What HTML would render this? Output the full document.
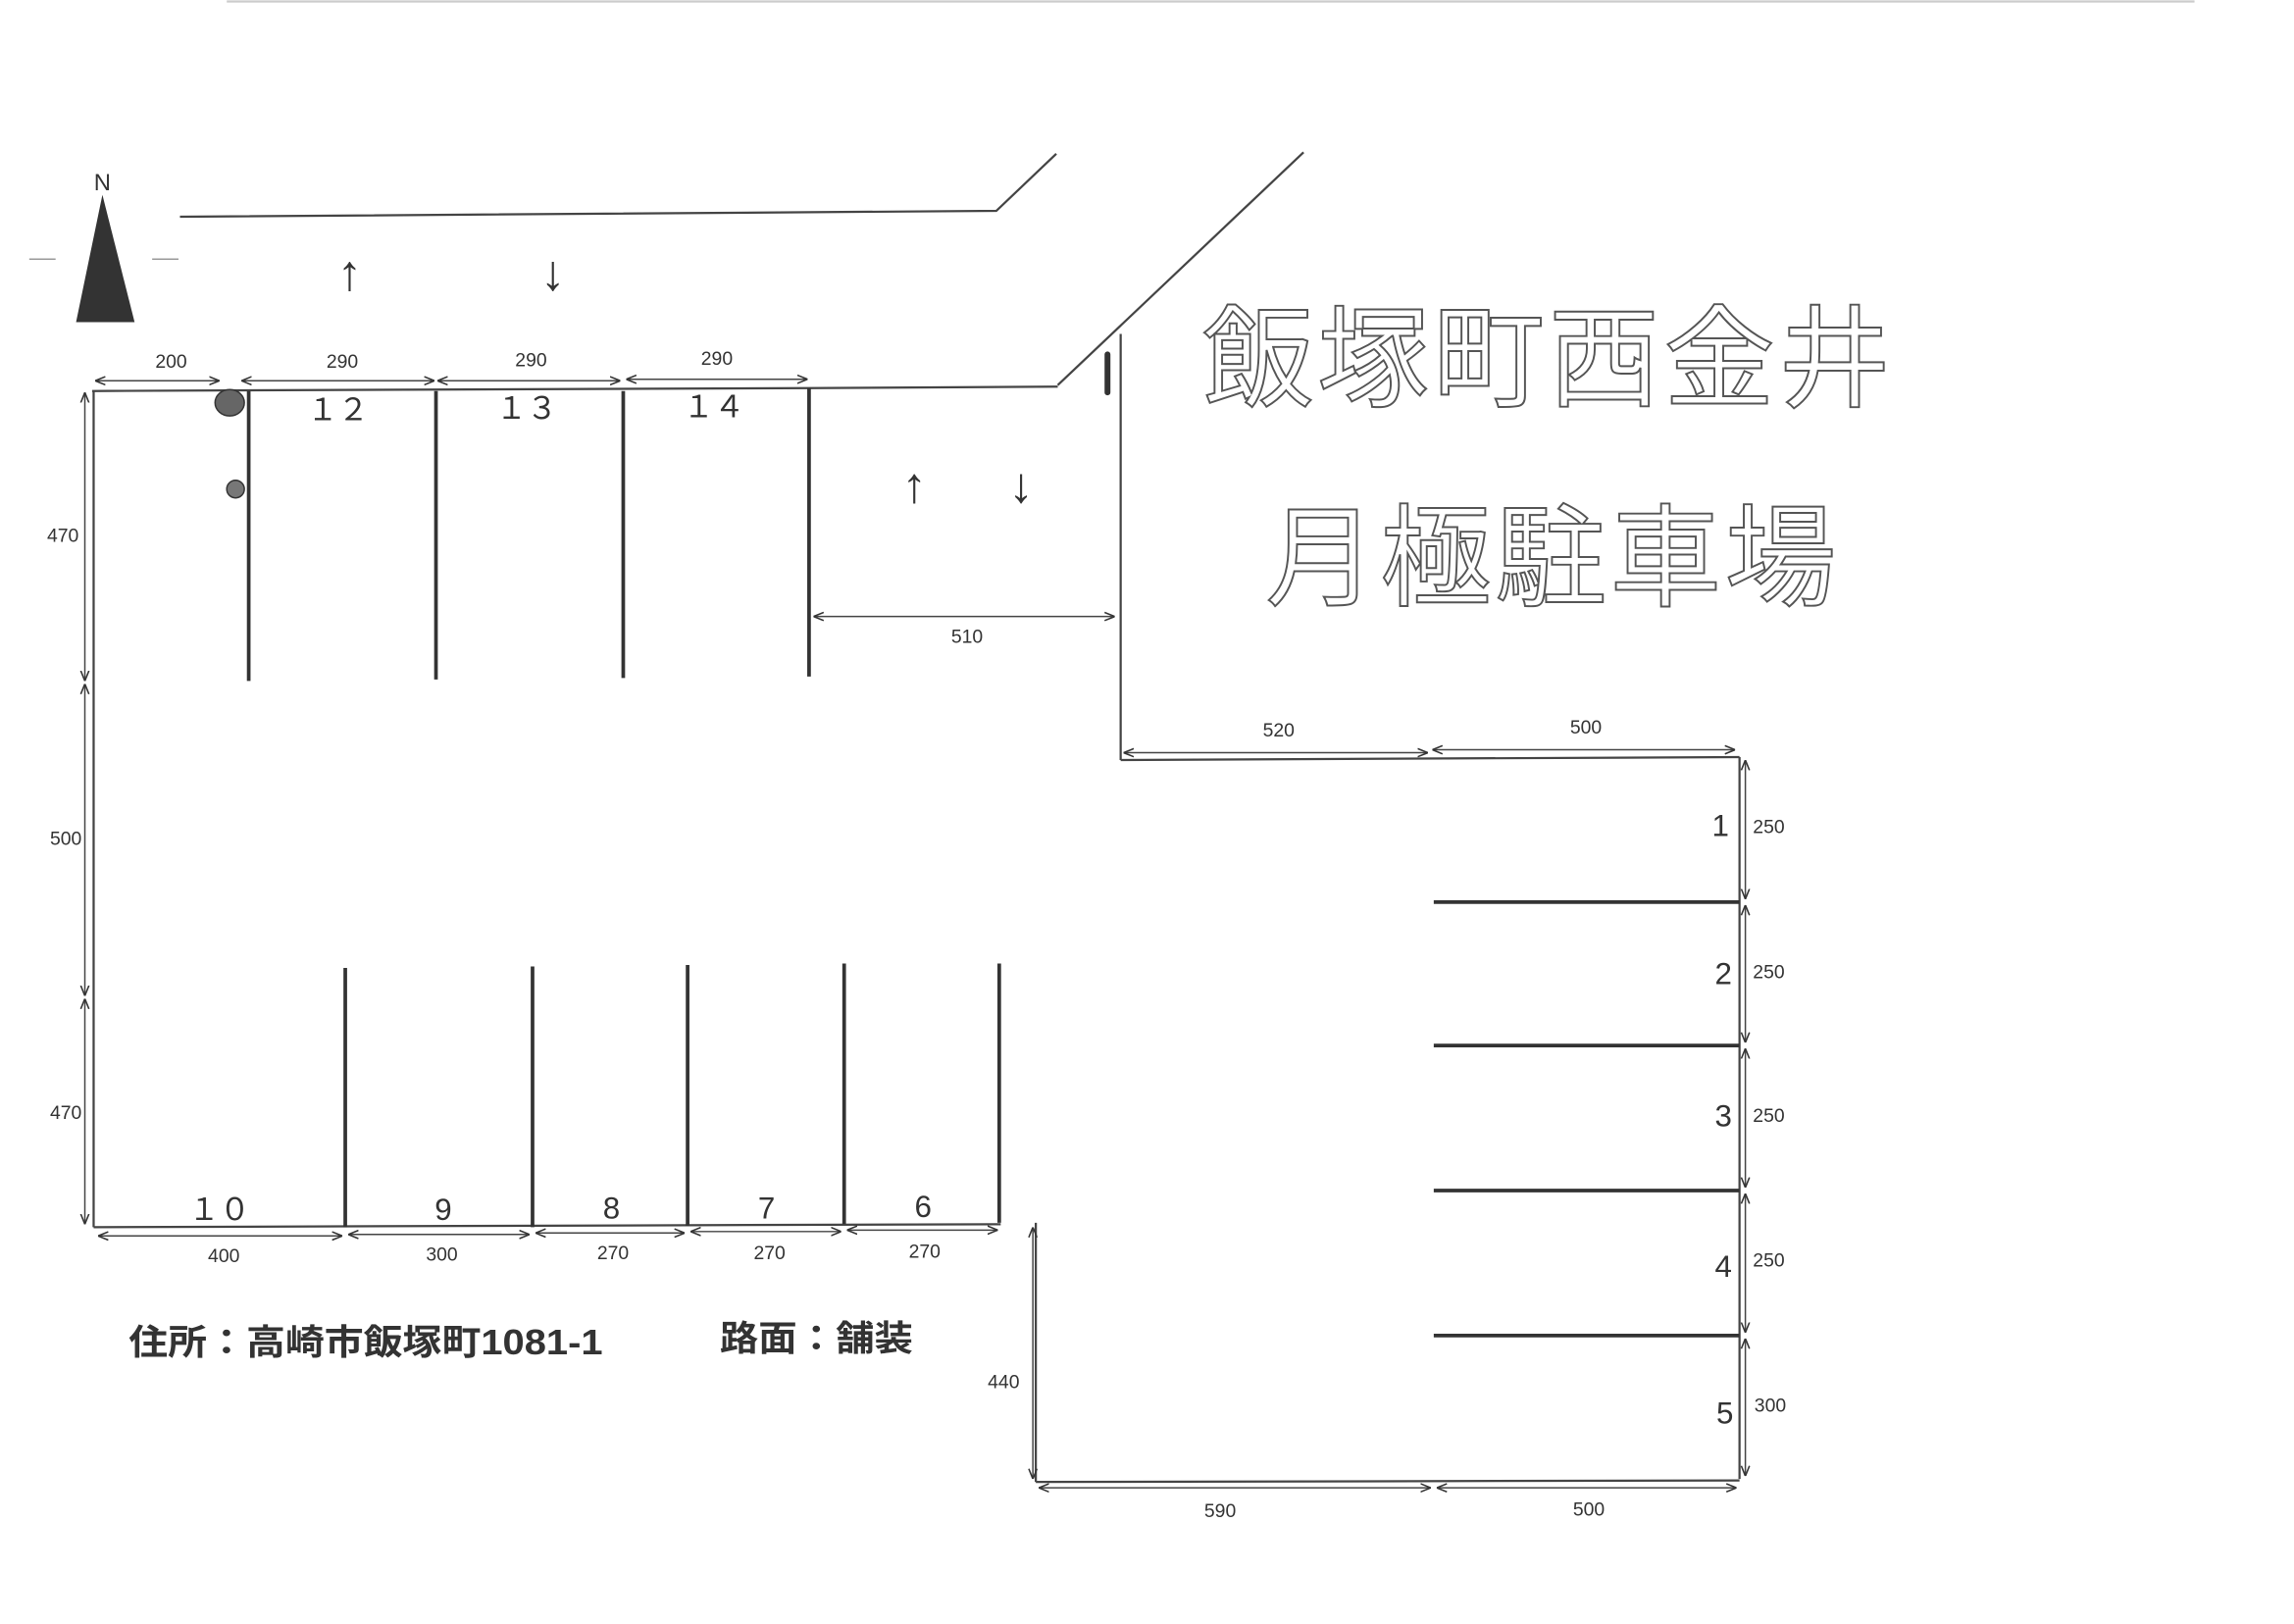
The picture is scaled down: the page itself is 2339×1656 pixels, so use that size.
<!DOCTYPE html>
<html><head><meta charset="utf-8"><style>
html,body{margin:0;padding:0;background:#fff;}
svg{display:block;}
text{font-family:"Liberation Sans","Noto Sans CJK JP",sans-serif;fill:#333;}
text.ttl{fill:#fff;stroke:#555;stroke-width:1.3;}
</style></head><body>
<svg width="2339" height="1656" viewBox="0 0 1568 1109" preserveAspectRatio="none" xmlns="http://www.w3.org/2000/svg">
<defs>
<marker id="a" viewBox="0 0 10 10" refX="10" refY="5" markerWidth="7" markerHeight="7" orient="auto-start-reverse"><path d="M0,1 L10,5 L0,9" fill="none" stroke="#333" stroke-width="1.5"/></marker>
</defs>
<rect width="1568" height="1109" fill="#fff"/>
<g stroke="#444" stroke-width="1.5" fill="none">
<line x1="155" y1="1" x2="1500" y2="1" stroke="#ccc"/>
<polyline points="123,148 681,144 722,105"/>
<line x1="891" y1="104" x2="723" y2="263"/>
<polyline points="63,267 553,265 723,264"/>
<line x1="766" y1="228" x2="766" y2="519"/>
<line x1="64" y1="267" x2="64" y2="838"/>
<line x1="64" y1="838" x2="684" y2="836"/>
<line x1="766" y1="519" x2="1189" y2="517"/>
<line x1="1189" y1="517" x2="1189" y2="1010"/>
<line x1="708" y1="1012" x2="1189" y2="1011"/>
<line x1="708" y1="835" x2="708" y2="1012"/>
</g>
<g stroke="#333" stroke-width="2.5">
<line x1="170" y1="267" x2="170" y2="465"/>
<line x1="298" y1="267" x2="298" y2="464"/>
<line x1="426" y1="267" x2="426" y2="463"/>
<line x1="553" y1="265" x2="553" y2="462"/>
<line x1="236" y1="661" x2="236" y2="838"/>
<line x1="364" y1="660" x2="364" y2="838"/>
<line x1="470" y1="659" x2="470" y2="837"/>
<line x1="577" y1="658" x2="577" y2="836"/>
<line x1="683" y1="658" x2="683" y2="835"/>
<line x1="980" y1="616" x2="1189" y2="616"/>
<line x1="980" y1="714" x2="1189" y2="714"/>
<line x1="980" y1="813" x2="1189" y2="813"/>
<line x1="980" y1="912" x2="1189" y2="912"/>
<line x1="757" y1="242" x2="757" y2="268" stroke-width="4" stroke-linecap="round"/>
</g>
<ellipse cx="157" cy="275" rx="10" ry="9" fill="#666" stroke="#333"/>
<circle cx="161" cy="334" r="6" fill="#777" stroke="#333"/>
<polygon points="70,133 52,220 92,220" fill="#333"/>
<line x1="20" y1="177" x2="38" y2="177" stroke="#999"/><line x1="104" y1="177" x2="122" y2="177" stroke="#999"/>
<text x="70" y="130" font-size="16" text-anchor="middle" font-family="Liberation Serif">N</text>
<g font-size="34" text-anchor="middle">
<text x="239" y="198">↑</text><text x="378" y="198">↓</text>
<text x="625" y="343">↑</text><text x="698" y="343">↓</text>
</g>
<g stroke="#444" stroke-width="1" marker-start="url(#a)" marker-end="url(#a)">
<line x1="65" y1="260" x2="150" y2="260"/>
<line x1="165" y1="260" x2="297" y2="260"/>
<line x1="299" y1="260" x2="424" y2="260"/>
<line x1="428" y1="259" x2="552" y2="259"/>
<line x1="556" y1="421" x2="762" y2="421"/>
<line x1="768" y1="514" x2="976" y2="514"/>
<line x1="979" y1="512" x2="1186" y2="512"/>
<line x1="58" y1="268" x2="58" y2="465"/>
<line x1="58" y1="467" x2="58" y2="680"/>
<line x1="58" y1="682" x2="58" y2="836"/>
<line x1="67" y1="844" x2="234" y2="844"/>
<line x1="238" y1="843" x2="362" y2="843"/>
<line x1="366" y1="842" x2="468" y2="842"/>
<line x1="472" y1="841" x2="575" y2="841"/>
<line x1="579" y1="840" x2="682" y2="840"/>
<line x1="1193" y1="519" x2="1193" y2="614"/>
<line x1="1193" y1="618" x2="1193" y2="712"/>
<line x1="1193" y1="716" x2="1193" y2="811"/>
<line x1="1193" y1="815" x2="1193" y2="910"/>
<line x1="1193" y1="914" x2="1193" y2="1008"/>
<line x1="706" y1="838" x2="706" y2="1010"/>
<line x1="710" y1="1016" x2="978" y2="1016"/>
<line x1="982" y1="1016" x2="1187" y2="1016"/>
</g>
<g font-size="13" text-anchor="middle">
<text x="117" y="251">200</text><text x="234" y="251">290</text><text x="363" y="250">290</text><text x="490" y="249">290</text>
<text x="661" y="439">510</text><text x="874" y="503">520</text><text x="1084" y="501">500</text>
<text x="43" y="370">470</text><text x="45" y="577">500</text><text x="45" y="764">470</text>
<text x="153" y="862">400</text><text x="302" y="861">300</text><text x="419" y="860">270</text><text x="526" y="860">270</text><text x="632" y="859">270</text>
<text x="1209" y="569">250</text><text x="1209" y="668">250</text><text x="1209" y="766">250</text><text x="1209" y="865">250</text><text x="1210" y="964">300</text>
<text x="686" y="948">440</text><text x="834" y="1036">590</text><text x="1086" y="1035">500</text>
</g>
<g font-size="21" text-anchor="middle">
<text x="231" y="287">１２</text><text x="360" y="286">１３</text><text x="488" y="285">１４</text>
<text x="150" y="833">１０</text><text x="303" y="833">9</text><text x="418" y="832">8</text><text x="524" y="832">7</text><text x="631" y="831">6</text>
<text x="1176" y="571">1</text><text x="1178" y="672">2</text><text x="1178" y="769">3</text><text x="1178" y="872">4</text><text x="1179" y="972">5</text>
</g>
<g font-size="76" text-anchor="middle">
<text class="ttl" x="1057" y="272" textLength="470">飯塚町西金井</text>
<text class="ttl" x="1060" y="408" textLength="390">月極駐車場</text>
</g>
<g font-size="24" font-weight="bold">
<text x="88" y="925" textLength="324" lengthAdjust="spacingAndGlyphs">住所：高崎市飯塚町1081-1</text>
<text x="492" y="922" textLength="132" lengthAdjust="spacingAndGlyphs">路面：舗装</text>
</g>
</svg>
</body></html>
